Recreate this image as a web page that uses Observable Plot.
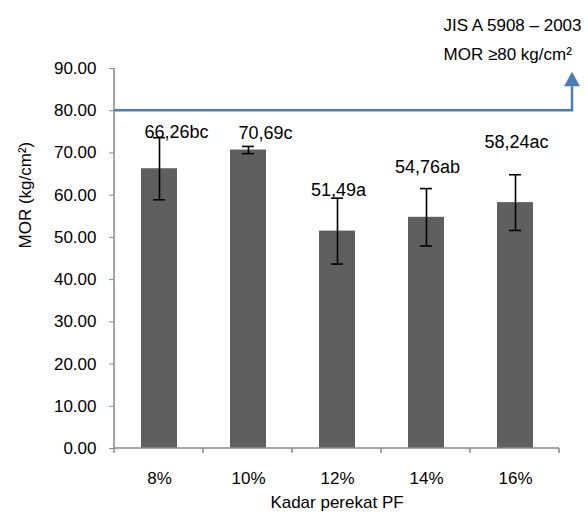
<!DOCTYPE html>
<html><head><meta charset="utf-8">
<script src="https://cdn.jsdelivr.net/npm/d3@7"></script>
<script src="https://cdn.jsdelivr.net/npm/@observablehq/plot@0.6"></script>
<style>body{margin:0;background:#fff}</style>
</head><body><div id="chart"></div>
<script>
const categories = ["8%", "10%", "12%", "14%", "16%"];
const mor = [66.26, 70.69, 51.49, 54.76, 58.24];
const errors = [7.35, 0.85, 7.8, 6.8, 6.6];
const labels = ["66,26bc", "70,69c", "51,49a", "54,76ab", "58,24ac"];
const labelAt = [74.8, 74.7, 61.1, 66.6, 72.5];
const yTicks = [0, 10, 20, 30, 40, 50, 60, 70, 80, 90];
const standardValue = 80;
const standardText = ["JIS A 5908 – 2003", "MOR ≥80 kg/cm²"];
const xTitle = "Kadar perekat PF";
const yTitle = "MOR (kg/cm²)";

const rows = categories.map((c, i) => ({cat: c, mor: mor[i], err: errors[i], label: labels[i], at: labelAt[i], i}));

const axisGray = "#898989";
const blue = "#4a7ebb";

function yOf(scales, v) {
  return typeof scales.y === "function" ? scales.y(v) : scales.y.apply(v);
}

function axisLines(index, scales, values, dims) {
  const {width, height, marginLeft, marginRight, marginTop, marginBottom} = dims;
  const g = d3.create("svg:g").attr("stroke", axisGray).attr("stroke-width", 1.5).attr("fill", "none");
  const x0 = marginLeft, x1 = width - marginRight, yb = height - marginBottom;
  g.append("line").attr("x1", x0).attr("x2", x0).attr("y1", marginTop).attr("y2", yb);
  g.append("line").attr("x1", x0).attr("x2", x1).attr("y1", yb).attr("y2", yb);
  const n = categories.length;
  for (let k = 0; k <= n; k++) {
    const xx = x0 + k * (x1 - x0) / n;
    g.append("line").attr("x1", xx).attr("x2", xx).attr("y1", yb).attr("y2", yb + 5);
  }
  return g.node();
}

function standardArrow(index, scales, values, dims) {
  const {width, marginLeft} = dims;
  const y80 = yOf(scales, standardValue);
  const xr = width - 16;
  const g = d3.create("svg:g");
  g.append("path")
    .attr("d", `M${marginLeft},${y80}H${xr}V${y80 - 24}`)
    .attr("fill", "none").attr("stroke", blue).attr("stroke-width", 2.5);
  g.append("path")
    .attr("d", `M${xr - 8},${y80 - 24}L${xr + 8},${y80 - 24}L${xr},${y80 - 38.5}Z`)
    .attr("fill", blue);
  return g.node();
}

const chart = Plot.plot({
  width: 588,
  height: 513,
  marginLeft: 114,
  marginRight: 29,
  marginTop: 68,
  marginBottom: 65,
  style: {fontFamily: "'Liberation Sans', Arial, sans-serif", fontSize: "17px", background: "white", color: "#000"},
  x: {domain: categories, paddingInner: 0.6, paddingOuter: 0.3},
  y: {domain: [0, 90]},
  marks: [
    Plot.barY(rows, {x: "cat", y: "mor", fill: "#5f5f5f"}),
    axisLines,
    Plot.axisY({ticks: yTicks, tickFormat: d => d.toFixed(2), tickSize: 5, tickPadding: 13, fontSize: 17, stroke: axisGray, fill: "#000", label: null}),
    Plot.axisX({tickSize: 0, tickPadding: 23, fontSize: 17, fill: "#000", label: null}),
    standardArrow,
    Plot.ruleX(rows, {x: "cat", y1: d => d.mor - d.err, y2: d => d.mor + d.err, stroke: "#000", strokeWidth: 1.6}),
    Plot.tickY(rows, {x: "cat", y: d => d.mor + d.err, stroke: "#000", strokeWidth: 1.6, insetLeft: 12, insetRight: 12}),
    Plot.tickY(rows, {x: "cat", y: d => d.mor - d.err, stroke: "#000", strokeWidth: 1.6, insetLeft: 12, insetRight: 12}),
    Plot.text(rows.filter(d => d.i < 2), {x: "cat", y: "at", text: "label", dx: 17, fontSize: 18, fill: "#000"}),
    Plot.text(rows.filter(d => d.i >= 2), {x: "cat", y: "at", text: "label", dx: 1, fontSize: 18, fill: "#000"}),
    Plot.text([xTitle], {frameAnchor: "bottom", dy: 59, text: d => d, fontSize: 17, fill: "#000"}),
    Plot.text([yTitle], {frameAnchor: "left", dx: -89, dy: -10, rotate: -90, text: d => d, fontSize: 17, fill: "#000"}),
    Plot.text([standardText.join("\n")], {frameAnchor: "top-left", dx: 329, dy: -32, textAnchor: "start", lineAnchor: "middle", lineHeight: 1.66, text: d => d, fontSize: 17, fill: "#000"})
  ]
});
document.getElementById("chart").append(chart);
</script>
</body></html>
